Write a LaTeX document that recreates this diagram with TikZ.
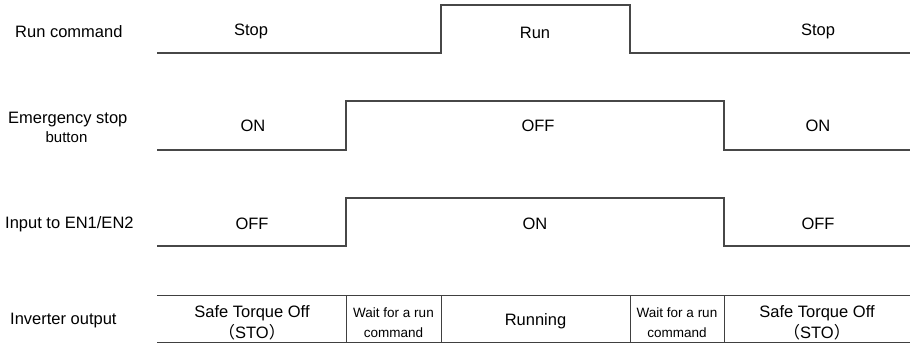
\documentclass[tikz,border=0pt]{standalone}
\usepackage{fontspec}
\setmainfont{Liberation Sans}
\newfontfamily\cjk{Noto Sans CJK SC}
\begin{document}
\begin{tikzpicture}[x=1pt,y=-1pt,
  wave/.style={draw=black!72,line width=1.1pt},
  grid/.style={draw=black!75,line width=1pt},
  lbl/.style={anchor=base west,inner sep=0pt,font=\fontsize{16.5}{18}\selectfont},
  val/.style={anchor=base,inner sep=0pt,font=\fontsize{16.5}{18}\selectfont},
  small/.style={anchor=base,inner sep=0pt,font=\fontsize{13.5}{15}\selectfont}]
\useasboundingbox (0,0) rectangle (910,343);
% time marks
\def\xa{157}\def\xb{346}\def\xc{441}\def\xd{630}\def\xe{724}\def\xf{910}
% row labels
\node[lbl] (l1) at (15,37) {Run command};
\node[lbl] (l2) at (8,123) {Emergency stop};
\node[val,font=\fontsize{15}{17}\selectfont] (l2b) at (66.5,142) {button};
\node[lbl] (l3) at (5,228) {Input to EN1/EN2};
\node[lbl] (l4) at (10,324) {Inverter output};
% Run command
\draw[wave] (\xa,53) -- (\xc,53) -- (\xc,5) -- (\xd,5) -- (\xd,53) -- (\xf,53);
\node[val] (r1) at (251,35) {Stop};
\node[val] (r2) at (535,38.5) {Run};
\node[val] (r3) at (818,35) {Stop};
% Emergency stop
\draw[wave] (\xa,150) -- (\xb,150) -- (\xb,101) -- (\xe,101) -- (\xe,150) -- (\xf,150);
\node[val] (e1) at (253,131) {ON};
\node[val] (e2) at (538,131) {OFF};
\node[val] (e3) at (818,131) {ON};
% EN1/EN2
\draw[wave] (\xa,246) -- (\xb,246) -- (\xb,198) -- (\xe,198) -- (\xe,246) -- (\xf,246);
\node[val] (n1) at (252,229) {OFF};
\node[val] (n2) at (535,229) {ON};
\node[val] (n3) at (818,229) {OFF};
% Inverter output table
\draw[grid] (\xa,295) -- (\xf,295);
\draw[grid] (\xa,342.5) -- (\xf,342.5);
\foreach \x in {\xb,\xc,\xd,\xe} \draw[grid] (\x,295) -- (\x,342.5);
\node[val] (s1a) at (252,317) {Safe Torque Off};
\node[val] (s1b) at (252,338) {{\cjk （}STO{\cjk ）}};
\node[small] (w1a) at (393.5,317) {Wait for a run};
\node[small] (w1b) at (393.5,337) {command};
\node[val] (rn) at (535.5,325) {Running};
\node[small] (w2a) at (677,317) {Wait for a run};
\node[small] (w2b) at (677,337) {command};
\node[val] (s2a) at (817,317) {Safe Torque Off};
\node[val] (s2b) at (817,338) {{\cjk （}STO{\cjk ）}};
\end{tikzpicture}
\end{document}
